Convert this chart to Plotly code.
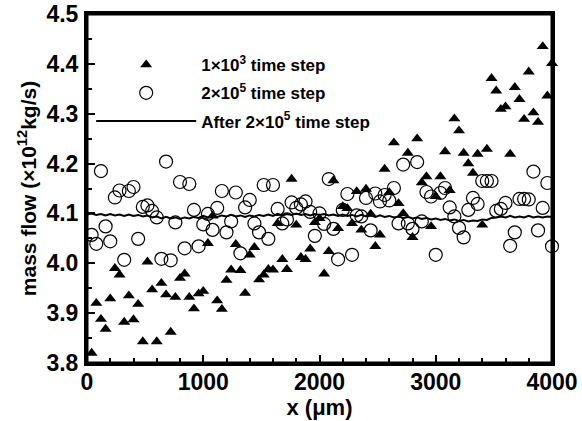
import plotly.graph_objects as go

# ---- data ----
x_tri = [40 * i for i in range(1, 101)]
y_tri = [3.820, 3.920, 3.888, 3.868, 3.929, 3.990, 3.977, 3.882, 3.935, 3.887,
         3.918, 3.843, 4.003, 3.947, 3.843, 3.960, 3.937, 3.862, 3.932, 3.970,
         3.979, 3.932, 3.909, 3.939, 3.944, 4.040, 4.095, 3.925, 3.908, 3.966,
         3.987, 4.038, 3.986, 3.940, 4.017, 4.032, 3.967, 3.977, 3.988, 3.987,
         4.080, 4.008, 3.988, 4.169, 4.077, 4.012, 4.008, 4.029, 4.082, 4.090,
         3.979, 4.024, 4.166, 4.070, 4.114, 4.110, 4.080, 4.144, 4.067, 4.149,
         4.099, 4.034, 4.057, 4.189, 4.142, 4.242, 4.120, 4.100, 4.221, 4.052,
         4.250, 4.162, 4.174, 4.074, 4.134, 4.174, 4.224, 4.146, 4.290, 4.266,
         4.221, 4.200, 4.181, 4.219, 4.077, 4.229, 4.371, 4.346, 4.309, 4.314,
         4.219, 4.353, 4.329, 4.289, 4.384, 4.302, 4.283, 4.435, 4.336, 4.401]

x_circ = [40 * i for i in range(1, 101)]
y_circ = [4.057, 4.039, 4.185, 4.074, 4.044, 4.132, 4.146, 4.007, 4.145, 4.153,
          4.049, 4.113, 4.116, 4.105, 4.092, 4.009, 4.204, 4.006, 4.082, 4.163,
          4.030, 4.159, 4.107, 4.034, 4.078, 4.099, 4.067, 4.111, 4.145, 4.062,
          4.084, 4.142, 4.020, 4.112, 4.127, 4.080, 4.062, 4.157, 4.049, 4.157,
          4.109, 4.080, 4.088, 4.122, 4.111, 4.118, 4.124, 4.103, 4.055, 4.100,
          4.079, 4.169, 4.069, 4.008, 4.107, 4.139, 4.017, 4.096, 4.094, 4.131,
          4.066, 4.140, 4.124, 4.137, 4.126, 4.151, 4.080, 4.198, 4.080, 4.069,
          4.203, 4.084, 4.143, 4.134, 4.017, 4.141, 4.151, 4.112, 4.094, 4.071,
          4.052, 4.107, 4.131, 4.119, 4.165, 4.165, 4.165, 4.105, 4.109, 4.121,
          4.035, 4.062, 4.129, 4.129, 4.128, 4.184, 4.066, 4.111, 4.161, 4.034]

x_line = [40 * i for i in range(0, 101)]
y_line = [4.098, 4.100, 4.097, 4.099, 4.096, 4.099, 4.096, 4.098, 4.095, 4.098,
          4.095, 4.097, 4.094, 4.096, 4.092, 4.094, 4.090, 4.093, 4.090, 4.092,
          4.089, 4.092, 4.090, 4.093, 4.091, 4.095, 4.092, 4.096, 4.093, 4.096,
          4.094, 4.097, 4.094, 4.096, 4.093, 4.096, 4.094, 4.097, 4.095, 4.098,
          4.095, 4.099, 4.096, 4.099, 4.097, 4.100, 4.097, 4.099, 4.096, 4.099,
          4.097, 4.099, 4.096, 4.098, 4.095, 4.098, 4.095, 4.097, 4.094, 4.097,
          4.094, 4.096, 4.093, 4.096, 4.093, 4.095, 4.092, 4.094, 4.091, 4.093,
          4.090, 4.092, 4.089, 4.091, 4.088, 4.090, 4.087, 4.089, 4.086, 4.088,
          4.085, 4.087, 4.084, 4.086, 4.085, 4.088, 4.087, 4.091, 4.092, 4.094,
          4.092, 4.095, 4.092, 4.094, 4.092, 4.095, 4.092, 4.094, 4.092, 4.094,
          4.093]

x_ticks = [0, 1000, 2000, 3000, 4000]
y_ticks = [3.8, 3.9, 4.0, 4.1, 4.2, 4.3, 4.4, 4.5]

FONT = "Arial, Liberation Sans, sans-serif"

fig = go.Figure()
fig.add_trace(go.Scatter(
    x=x_tri, y=y_tri, mode="markers", name="1×10<sup>3</sup> time step",
    legendgroup="a",
    marker=dict(symbol="triangle-up", size=10.5, color="black"),
    cliponaxis=False))
fig.add_trace(go.Scatter(
    x=x_circ, y=y_circ, mode="markers", name="2×10<sup>5</sup> time step",
    legendgroup="b",
    marker=dict(symbol="circle-open", size=13, color="black", line=dict(width=1.2, color="black")),
    cliponaxis=False))
fig.add_trace(go.Scatter(
    x=x_line, y=y_line, mode="lines", name="After 2×10<sup>5</sup> time step",
    legendgroup="c",
    line=dict(color="black", width=2)))

axis_common = dict(
    showgrid=False, zeroline=False, showline=True, linewidth=3, linecolor="black",
    mirror=True, ticks="inside", ticklen=8, tickwidth=2, tickcolor="black",
    automargin=False,
    tickfont=dict(family=FONT, size=23, color="black", weight="bold"),
)

fig.update_xaxes(
    range=[0, 4000], tickvals=x_ticks, ticklabelstandoff=-4,
    minor=dict(dtick=200, ticks="inside", ticklen=5, tickwidth=1.5, tickcolor="black"),
    title=dict(text="x (μm)", font=dict(family=FONT, size=22, color="black", weight="bold"), standoff=6),
    **axis_common)
fig.update_yaxes(
    range=[3.8, 4.5], tickvals=y_ticks, tickformat=".1f", ticklabelstandoff=1,
    minor=dict(dtick=0.05, ticks="inside", ticklen=5, tickwidth=1.5, tickcolor="black"),
    title=dict(text="mass flow (×10<sup>12</sup>kg/s)", font=dict(family=FONT, size=21, color="black", weight="bold"), standoff=5),
    **axis_common)

fig.update_layout(
    width=582, height=421,
    margin=dict(l=87, r=30, t=14, b=58),
    plot_bgcolor="white", paper_bgcolor="white",
    showlegend=True,
    legend=dict(x=0.009, y=0.905, xanchor="left", yanchor="top",
                bgcolor="rgba(0,0,0,0)", borderwidth=0,
                itemwidth=100, traceorder="grouped", tracegroupgap=3,
                font=dict(family=FONT, size=17, color="black", weight="bold")),
    # plot frame (axis box)
    shapes=[dict(type="rect", xref="paper", yref="paper", x0=0, x1=1, y0=0, y1=1,
                 line=dict(color="black", width=3), fillcolor="rgba(0,0,0,0)", layer="above")],
)

# remove the default 8px page margin so the figure fills the window exactly
fig.write_html("out.html", config={"displayModeBar": False},
               post_script="document.body.style.margin='0px';document.body.style.overflow='hidden';")
